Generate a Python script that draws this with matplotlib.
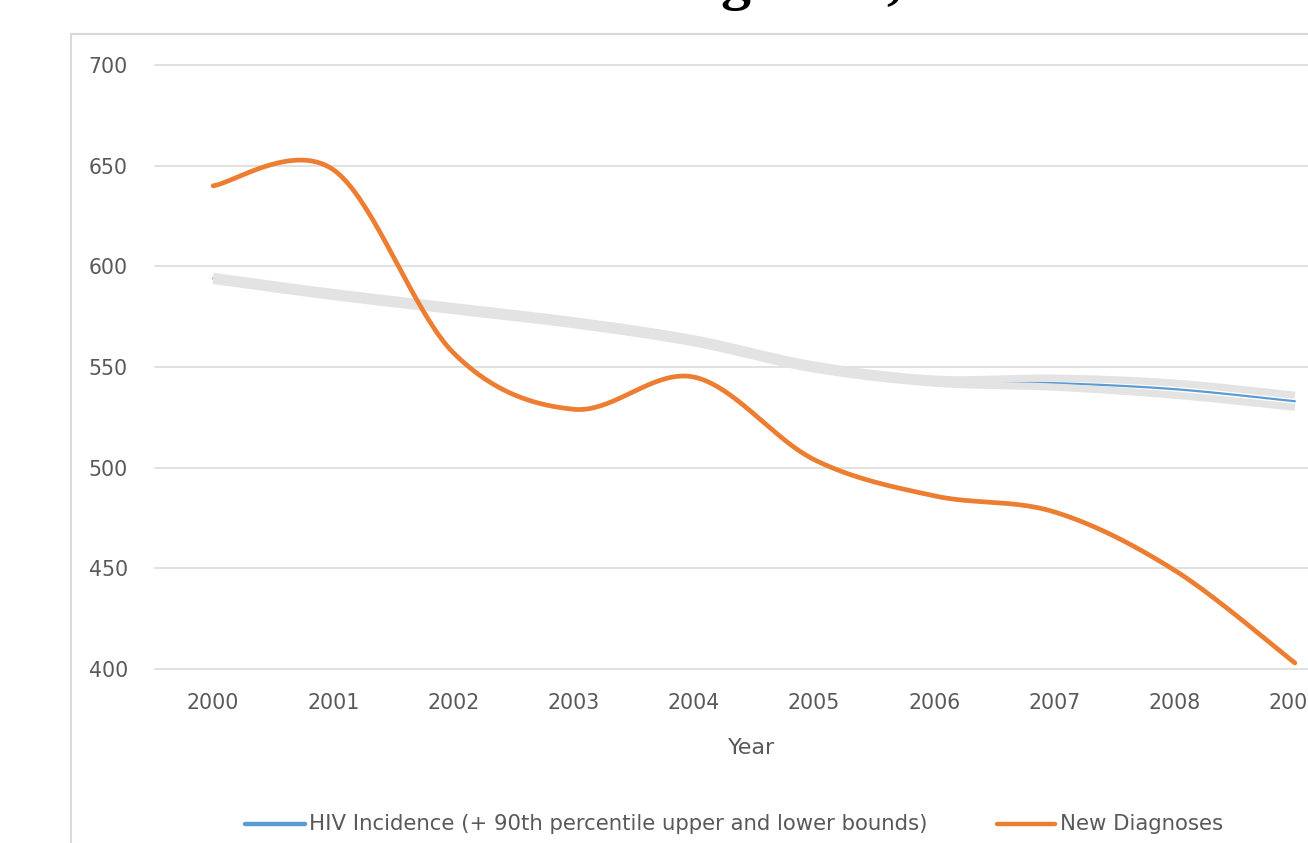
import numpy as np
import matplotlib
matplotlib.use("Agg")
import matplotlib.pyplot as plt
from matplotlib.lines import Line2D

plt.rcParams['font.family'] = ['DejaVu Sans']

# ---- data ----
years = ["2000", "2001", "2002", "2003", "2004", "2005", "2006", "2007", "2008", "2009"]
incidence = [594, 586, 579, 572, 563, 550, 543, 542, 539, 533]
upper_bound = [595, 587, 580, 573, 564, 551, 544, 544.5, 542, 536]
lower_bound = [593, 585, 578, 571, 562, 549, 542, 540, 536, 530]
new_diagnoses = [640, 648, 557, 529, 545, 504, 486, 478, 449, 403]
y_ticks = [400, 450, 500, 550, 600, 650, 700]

TEXT_GREY = "#595959"
GRID_GREY = "#d9d9d9"
BLUE = "#5b9bd5"
ORANGE = "#ed7d31"
BAND_GREY = "#e3e3e3"


def smooth(xs, ys, n=40):
    """Spreadsheet-style smoothed line (cubic Bezier through every point)."""
    xs = np.asarray(xs, float)
    ys = np.asarray(ys, float)
    px = np.concatenate([[xs[0]], xs, [xs[-1]]])
    py = np.concatenate([[ys[0]], ys, [ys[-1]]])
    outx, outy = [], []
    t = np.linspace(0, 1, n)
    for i in range(1, len(px) - 2):
        x0, y0 = px[i], py[i]
        x3, y3 = px[i + 1], py[i + 1]
        x1 = x0 + (px[i + 1] - px[i - 1]) / 6
        y1 = y0 + (py[i + 1] - py[i - 1]) / 6
        x2 = x3 - (px[i + 2] - px[i]) / 6
        y2 = y3 - (py[i + 2] - py[i]) / 6
        bx = (1 - t) ** 3 * x0 + 3 * (1 - t) ** 2 * t * x1 + 3 * (1 - t) * t ** 2 * x2 + t ** 3 * x3
        by = (1 - t) ** 3 * y0 + 3 * (1 - t) ** 2 * t * y1 + 3 * (1 - t) * t ** 2 * y2 + t ** 3 * y3
        outx.extend(bx)
        outy.extend(by)
    return np.array(outx), np.array(outy)


W, H = 1308, 843
fig = plt.figure(figsize=(W / 100, H / 100), dpi=100)

# plot area (extends past the right edge of the canvas)
left, right = 153, 1355
top, bottom = 65, 669
ax = fig.add_axes([left / W, 1 - bottom / H, (right - left) / W, (bottom - top) / H])
ax.set_xlim(-0.5, len(years) - 0.5)
ax.set_ylim(400, 700)
for s in ax.spines.values():
    s.set_visible(False)

x = np.arange(len(years))

for v in y_ticks:
    ax.axhline(v, xmin=0.002, color=GRID_GREY, lw=1.1, zorder=0, clip_on=False)

ax.plot(*smooth(x, incidence), color=BLUE, lw=1.6, zorder=2, solid_capstyle='round')
ax.plot(*smooth(x, upper_bound), color=BAND_GREY, lw=5.2, zorder=3, solid_capstyle='butt')
ax.plot(*smooth(x, lower_bound), color=BAND_GREY, lw=5.2, zorder=3, solid_capstyle='butt')
ax.plot(*smooth(x, new_diagnoses), color=ORANGE, lw=3.4, zorder=4, solid_capstyle='round')

ax.set_yticks(y_ticks)
ax.set_yticklabels([str(v) for v in y_ticks])
ax.set_xticks(x)
ax.set_xticklabels(years)
ax.tick_params(axis='both', length=0, labelsize=14.8, labelcolor=TEXT_GREY)
ax.tick_params(axis='y', pad=18)
ax.tick_params(axis='x', pad=17)

fig.text(752 / W, 1 - 748 / H, "Year", ha='center', va='center',
         fontsize=16, color=TEXT_GREY)

# chart-area border
fig.add_artist(Line2D([71 / W, 71 / W], [0, 1 - 34 / H], transform=fig.transFigure,
                      color=GRID_GREY, lw=1.5))
fig.add_artist(Line2D([71 / W, 1], [1 - 34 / H, 1 - 34 / H], transform=fig.transFigure,
                      color=GRID_GREY, lw=1.5))

# legend
ly = 1 - 824 / H
fig.add_artist(Line2D([245 / W, 305 / W], [ly, ly], transform=fig.transFigure,
                      color=BLUE, lw=3.2, solid_capstyle='round'))
fig.text(309 / W, ly, "HIV Incidence (+ 90th percentile upper and lower bounds)",
         ha='left', va='center', fontsize=15.3, color=TEXT_GREY)
fig.add_artist(Line2D([997 / W, 1055 / W], [ly, ly], transform=fig.transFigure,
                      color=ORANGE, lw=3.2, solid_capstyle='round'))
fig.text(1060 / W, ly, "New Diagnoses", ha='left', va='center',
         fontsize=15.3, color=TEXT_GREY)

# page heading above the chart (sits mostly above the top edge)
fig.text(6 / W, 1 + 2 / H, "HIV Incidence and New Diagnoses, 2000 to 2009",
         ha='left', va='baseline', fontsize=43, fontweight='bold',
         family=['Liberation Serif'], color='black')

fig.savefig("out.png", dpi=100, facecolor='white')
